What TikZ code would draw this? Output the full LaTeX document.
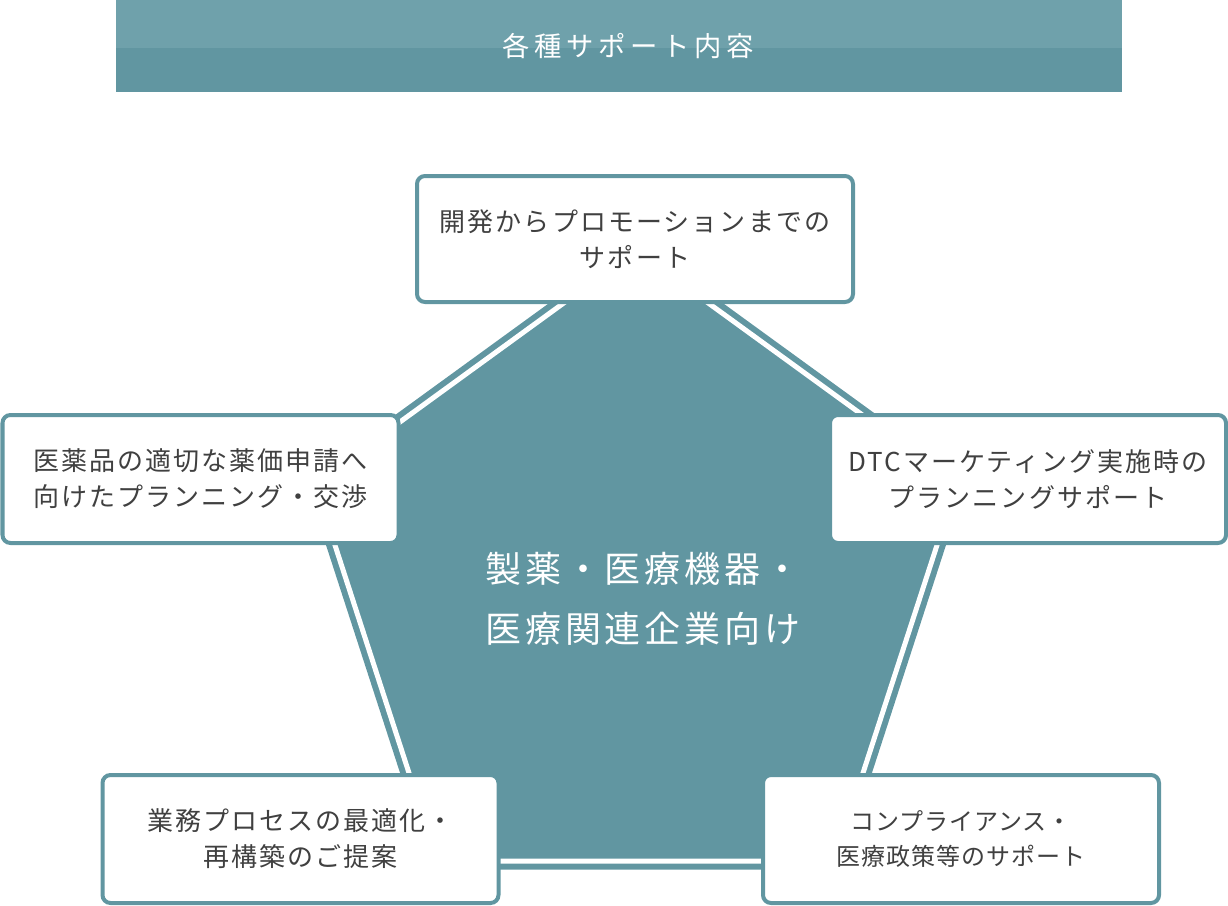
\documentclass[tikz,border=0pt]{standalone}
\usepackage{fontspec}
\newfontfamily\jpfont{Noto Sans CJK JP}
\usepackage{xcolor}
\usepackage{tikz}
\definecolor{cvt}{RGB}{97,150,161}
\definecolor{cvl}{RGB}{111,161,171}
\definecolor{cvk}{RGB}{64,64,64}

\begin{document}
\begin{tikzpicture}[
  x=0.75pt,y=-0.75pt,
  box/.style={draw=cvt,line width=3pt,fill=white,rounded corners=6pt,align=center,inner sep=0pt,
    text=cvk,minimum width=297pt,minimum height=96pt,
    font=\jpfont\addfontfeatures{LetterSpace=8}\fontsize{19.5pt}{27pt}\selectfont},
  smallbox/.style={box,font=\jpfont\addfontfeatures{LetterSpace=4}\fontsize{18pt}{26pt}\selectfont},
  head/.style={text=white,inner sep=0pt,
    font=\jpfont\addfontfeatures{LetterSpace=17}\fontsize{20.5pt}{24pt}\selectfont},
  core/.style={text=white,align=center,inner sep=0pt,
    font=\jpfont\addfontfeatures{LetterSpace=11}\fontsize{27pt}{45pt}\selectfont}
]
\useasboundingbox (0,0) rectangle (1228,906);
% header band
\fill[cvl] (116,0) rectangle (1122,48);
\fill[cvt] (116,48) rectangle (1122,92);
\node[head] (hd) at (628,46) {各種サポート内容};
% pentagon
\begin{scope}[shift={(636,588)}]
  \fill[cvt] (-90:348) -- (-18:348) -- (54:348) -- (126:348) -- (198:348) -- cycle;
  \draw[white,line width=3.75pt] (-90:337.5) -- (-18:337.5) -- (54:337.5) -- (126:337.5) -- (198:337.5) -- cycle;
\end{scope}
\node[core] (ct) at (643,599) {製薬・医療機器・\\医療関連企業向け};
% boxes
\node[box,minimum width=327pt,minimum height=94.5pt] (dev) at (635,239)
  {開発からプロモーションまでの\\サポート};
\node[box] (price) at (200.5,479) {医薬品の適切な薬価申請へ\\向けたプランニング・交渉};
\node[box] (dtc) at (1028,479) {DTCマーケティング実施時の\\プランニングサポート};
\node[box] (bpr) at (300.5,839) {業務プロセスの最適化・\\再構築のご提案};
\node[smallbox] (comp) at (961,839) {コンプライアンス・\\医療政策等のサポート};
\end{tikzpicture}
\end{document}
